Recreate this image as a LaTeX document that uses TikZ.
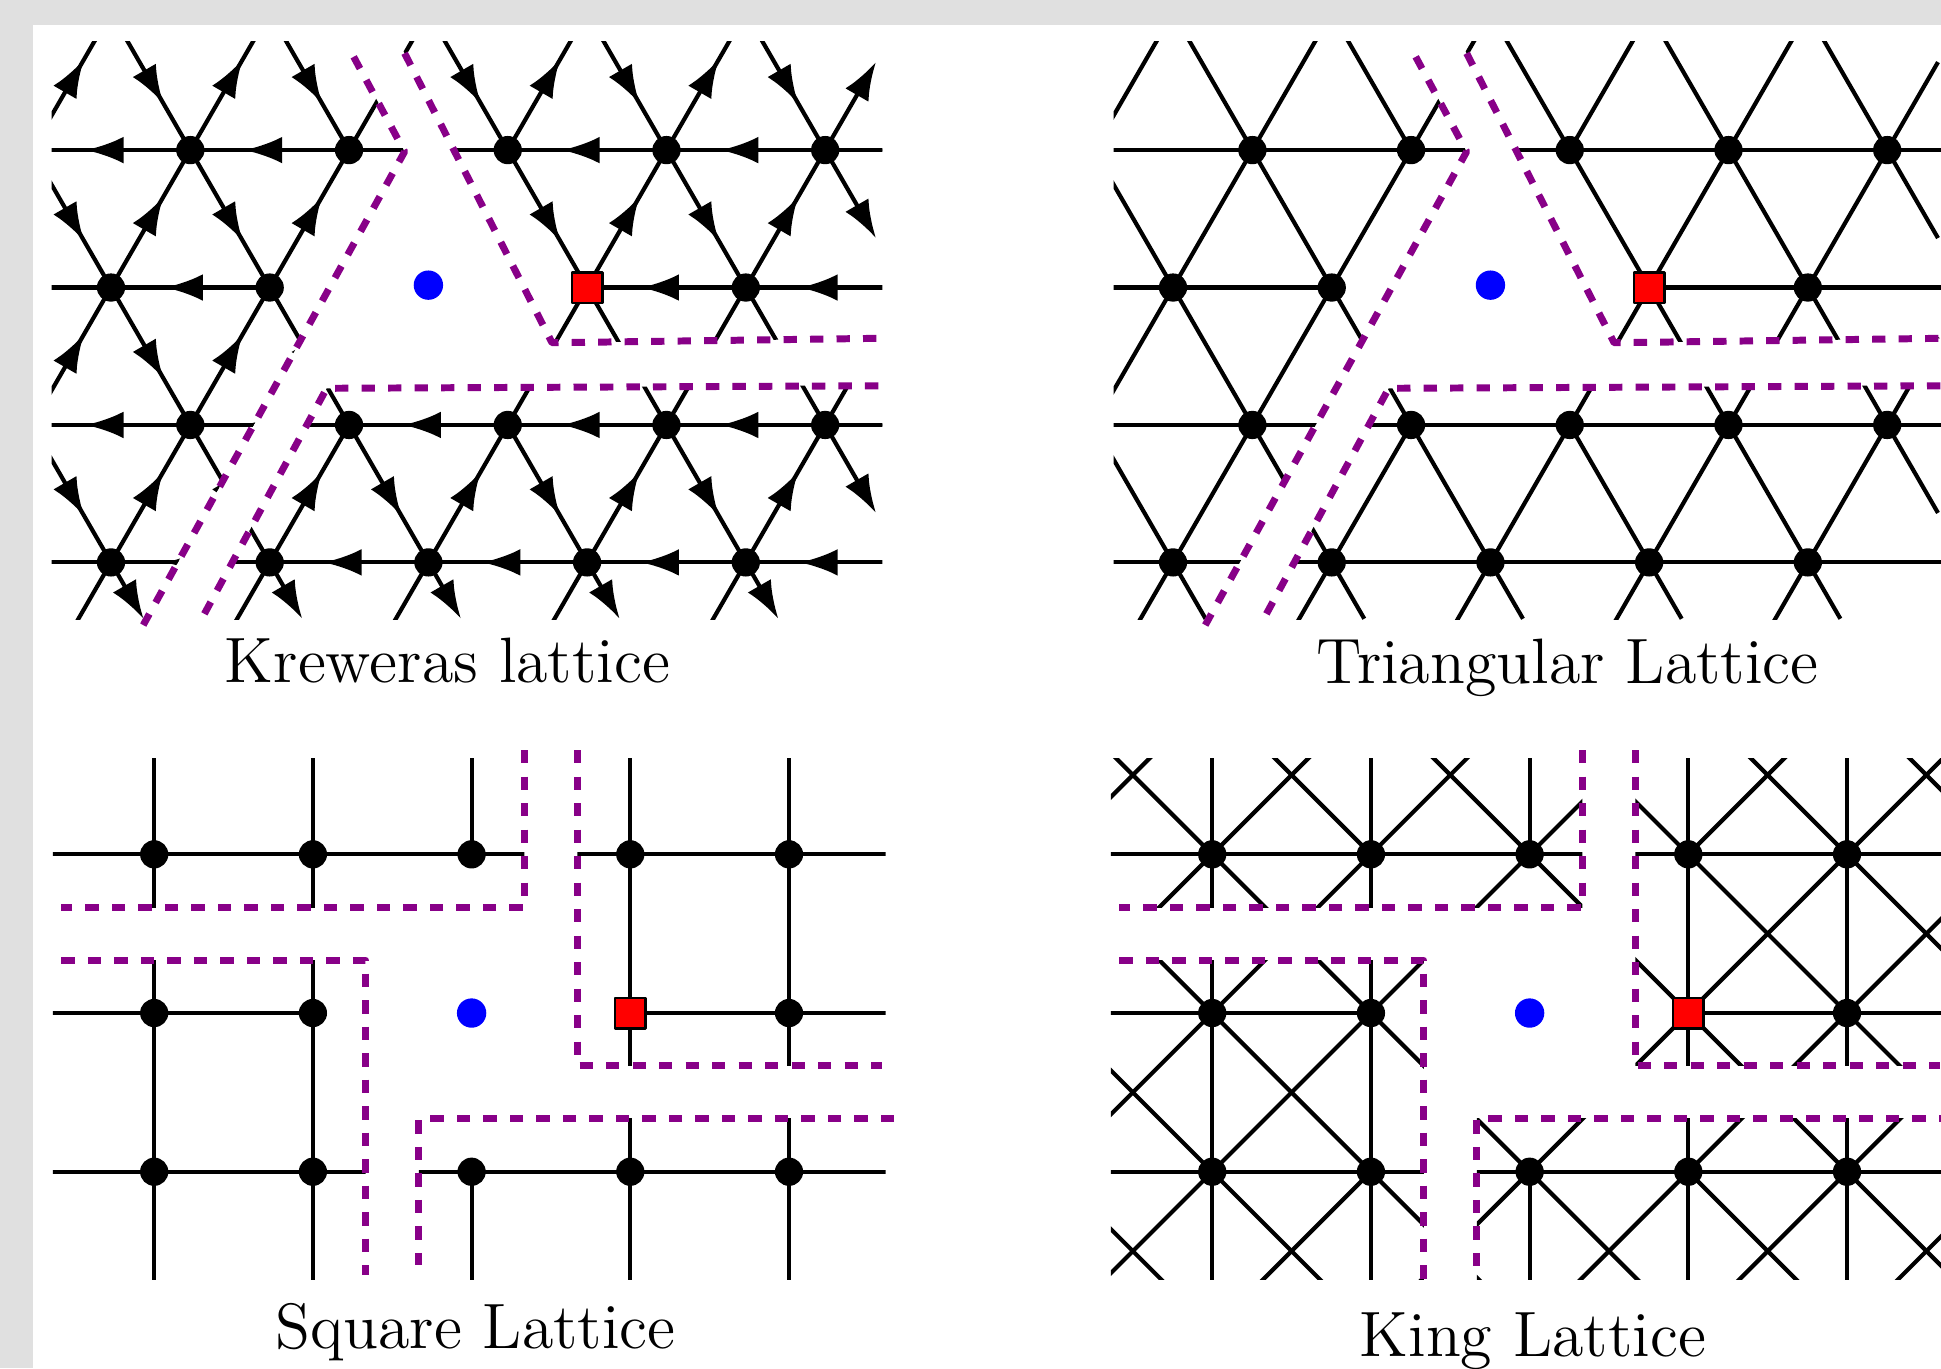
\documentclass[tikz,border=0pt]{standalone}
\usetikzlibrary{arrows.meta,decorations.markings}
\definecolor{pagegray}{RGB}{224,224,224}
\definecolor{cutviolet}{RGB}{136,0,136}
\tikzset{
  latline/.style={line width=0.75pt},
  cutline/.style={draw=cutviolet,line width=1.25pt,dash pattern=on 2.4pt off 2.35pt},
  vtx/.style={circle,fill=black,inner sep=0pt,minimum size=0.178cm},
  origin/.style={circle,fill=blue,inner sep=0pt,minimum size=0.185cm},
  target/.style={draw=black,fill=red,line width=0.45pt,inner sep=0pt,minimum size=0.192cm},
  kedge/.style={postaction={decorate},decoration={markings,mark=at position 0.66 with {\arrow{Latex[length=6.8pt,width=4.8pt]}}}},
  kstub/.style={-{Latex[length=6.8pt,width=4.8pt]}},
  lbl/.style={font=\fontsize{11.5}{14}\selectfont,anchor=base,inner sep=0pt},
}
% triangular lattice points #1-i-j
\newcommand{\tripoints}[1]{%
  \foreach \i in {-5,...,5}{\foreach \j in {-3,...,2}{%
    \coordinate (#1-\i-\j) at ({\i+0.5*\j},{0.8660*\j});}}}
% #1 prefix, #2 style of the edges, #3 style of the stubs
\newcommand{\triedges}[3]{%
  \foreach \i in {-5,...,4}{\foreach \j in {-2,...,2}{%
    \pgfmathtruncatemacro{\ii}{\i+1}%
    \pgfmathtruncatemacro{\skipw}{(\j==0)*((\i==0)+(\i+1==0))}%
    \ifnum\skipw=0 \draw[latline,#2] (#1-\ii-\j) -- (#1-\i-\j);\fi}}
  \foreach \i in {-5,...,5}{\foreach \j in {-2,...,1}{%
    \pgfmathtruncatemacro{\jj}{\j+1}%
    \pgfmathtruncatemacro{\skipn}{(\i==0)*((\j==0)+(\j+1==0))+(2*\i+\j+1>5)}%
    \ifnum\skipn=0 \draw[latline,#2] (#1-\i-\j) -- (#1-\i-\jj);\fi}}
  \foreach \i in {-5,...,4}{\foreach \j in {-1,...,2}{%
    \pgfmathtruncatemacro{\ii}{\i+1}%
    \pgfmathtruncatemacro{\jj}{\j-1}%
    \pgfmathtruncatemacro{\skips}{((\i==0)*(\j==0))+((\i+1==0)*(\j==1))+(2*\i+\j+1>5)}%
    \ifnum\skips=0 \draw[latline,#2] (#1-\i-\j) -- (#1-\ii-\jj);\fi}}
  \foreach \i in {-5,...,3}{%
    \pgfmathtruncatemacro{\skipb}{(2*\i-2>5)}%
    \ifnum\skipb=0 \draw[latline] (#1-\i--3) -- (#1-\i--2);\fi
    \draw[latline,#3] (#1-\i--2) -- ++(-60:0.41);}
  \foreach \i/\j in {2/1,3/-1}{%
    \draw[latline,#3] (#1-\i-\j) -- ++(60:0.64);
    \draw[latline,#3] (#1-\i-\j) -- ++(-60:0.64);}}
\newcommand{\trinodes}[1]{%
  \foreach \i/\j in {-1/-2,0/-2,1/-2,2/-2,3/-2,-1/-1,0/-1,1/-1,2/-1,3/-1,-2/0,-1/0,2/0,-2/1,-1/1,0/1,1/1,2/1}
    \node[vtx] (#1v-\i-\j) at (#1-\i-\j) {};}
% square lattice points #1-i-j
\newcommand{\sqpoints}[1]{%
  \foreach \i in {-3,...,3}{\foreach \j in {-2,...,2}{%
    \coordinate (#1-\i-\j) at (\i,\j);}}}
\newcommand{\sqedges}[1]{%
  \foreach \i in {-3,...,2}{\foreach \j in {-2,...,2}{%
    \pgfmathtruncatemacro{\ii}{\i+1}%
    \pgfmathtruncatemacro{\skiph}{(\j==0)*((\i==0)+(\i+1==0))}%
    \ifnum\skiph=0 \draw[latline] (#1-\i-\j) -- (#1-\ii-\j);\fi}}
  \foreach \i in {-3,...,3}{\foreach \j in {-2,...,1}{%
    \pgfmathtruncatemacro{\jj}{\j+1}%
    \pgfmathtruncatemacro{\skipv}{(\i==0)*((\j==0)+(\j+1==0))}%
    \ifnum\skipv=0 \draw[latline] (#1-\i-\j) -- (#1-\i-\jj);\fi}}}
\newcommand{\kingdiags}[1]{%
  \foreach \i in {-3,...,2}{\foreach \j in {-2,...,1}{%
    \pgfmathtruncatemacro{\ii}{\i+1}%
    \pgfmathtruncatemacro{\jj}{\j+1}%
    \pgfmathtruncatemacro{\skipa}{((\i==0)*(\j==0))+((\i+1==0)*(\j+1==0))}%
    \ifnum\skipa=0 \draw[latline] (#1-\i-\j) -- (#1-\ii-\jj);\fi
    \pgfmathtruncatemacro{\skipb}{((\i==0)*(\jj==0))+((\i+1==0)*(\j==0))}%
    \ifnum\skipb=0 \draw[latline] (#1-\i-\jj) -- (#1-\ii-\j);\fi}}}
\newcommand{\sqnodes}[1]{%
  \foreach \i/\j in {-2/1,-1/1,0/1,1/1,2/1,-2/0,-1/0,2/0,-2/-1,-1/-1,0/-1,1/-1,2/-1}
    \node[vtx] (#1v-\i-\j) at (#1-\i-\j) {};}
\begin{document}
\begin{tikzpicture}[x=1cm,y=1cm,line join=round]
\useasboundingbox (0,0) rectangle (12.2306,-8.62);
\fill[pagegray] (0,0) rectangle (12.2306,-8.62);
\fill[white] (0.206,-0.1575) rectangle (12.2306,-8.62);
% Kreweras lattice
\begin{scope}[shift={(2.6994,-1.8116)}]
  \tripoints{k}
  \begin{scope}
    \clip (-2.374,-2.09) rectangle (2.90,1.549);
    \begin{scope}
      \clip (-3,2) -- (-0.764,2) -- (-0.150,0.856) -- (-2.003,-2.5) -- (-3,-2.5) -- cycle;
      \triedges{k}{kedge}{kstub}
    \end{scope}
    \begin{scope}
      \clip (-0.417,2) -- (0.779,-0.348) -- (2.860,-0.320) -- (2.860,2) -- cycle;
      \triedges{k}{kedge}{kstub}
    \end{scope}
    \begin{scope}
      \clip (2.860,-0.616) -- (-0.641,-0.635) -- (-1.652,-2.5) -- (2.860,-2.5) -- cycle;
      \triedges{k}{kedge}{kstub}
    \end{scope}
  \end{scope}
  \draw[cutline] (-0.471,1.454) -- (-0.150,0.856) -- (-1.797,-2.127);
  \draw[cutline] (-0.150,1.476) -- (0.779,-0.348) -- (2.836,-0.320);
  \draw[cutline] (2.835,-0.619) -- (-0.641,-0.635) -- (-1.450,-2.127);
  \trinodes{k}
  \node[origin] (kblue) at (0,0.015) {};
  \node[target] (kred) at (k-1-0) {};
  \node[lbl] (klabel) at (0.12,-2.49) {Kreweras lattice};
\end{scope}
% triangular lattice
\begin{scope}[shift={(9.3914,-1.8116)}]
  \tripoints{t}
  \begin{scope}
    \clip (-2.374,-2.09) rectangle (2.90,1.549);
    \begin{scope}
      \clip (-3,2) -- (-0.764,2) -- (-0.150,0.856) -- (-2.003,-2.5) -- (-3,-2.5) -- cycle;
      \triedges{t}{}{}
    \end{scope}
    \begin{scope}
      \clip (-0.417,2) -- (0.779,-0.348) -- (2.860,-0.320) -- (2.860,2) -- cycle;
      \triedges{t}{}{}
    \end{scope}
    \begin{scope}
      \clip (2.860,-0.616) -- (-0.641,-0.635) -- (-1.652,-2.5) -- (2.860,-2.5) -- cycle;
      \triedges{t}{}{}
    \end{scope}
  \end{scope}
  \draw[cutline] (-0.471,1.454) -- (-0.150,0.856) -- (-1.797,-2.127);
  \draw[cutline] (-0.150,1.476) -- (0.779,-0.348) -- (2.836,-0.320);
  \draw[cutline] (2.835,-0.619) -- (-0.641,-0.635) -- (-1.450,-2.127);
  \trinodes{t}
  \node[origin] (tblue) at (0,0.015) {};
  \node[target] (tred) at (t-1-0) {};
  \node[lbl] (tlabel) at (0.487,-2.498) {Triangular Lattice};
\end{scope}
% square lattice
\begin{scope}[shift={(2.9716,-6.3831)}]
  \sqpoints{s}
  \begin{scope}
    \clip (-2.638,-1.676) rectangle (2.609,1.605);
    \begin{scope}
      \clip (-3,2) -- (0.333,2) -- (0.333,0.667) -- (-3,0.667) -- cycle;
      \sqedges{s}
    \end{scope}
    \begin{scope}
      \clip (0.667,2) -- (3,2) -- (3,-0.333) -- (0.667,-0.333) -- cycle;
      \sqedges{s}
    \end{scope}
    \begin{scope}
      \clip (-0.333,-0.667) -- (3,-0.667) -- (3,-2) -- (-0.333,-2) -- cycle;
      \sqedges{s}
    \end{scope}
    \begin{scope}
      \clip (-3,0.333) -- (-0.667,0.333) -- (-0.667,-2) -- (-3,-2) -- cycle;
      \sqedges{s}
    \end{scope}
  \end{scope}
  \draw[cutline] (0.333,1.657) -- (0.333,0.667) -- (-2.585,0.667);
  \draw[cutline] (0.667,1.657) -- (0.667,-0.333) -- (2.588,-0.333);
  \draw[cutline] (-2.585,0.333) -- (-0.667,0.333) -- (-0.667,-1.651);
  \draw[cutline] (2.662,-0.667) -- (-0.333,-0.667) -- (-0.333,-1.588);
  \sqnodes{s}
  \node[origin] (sblue) at (0,0) {};
  \node[target] (sred) at (s-1-0) {};
  \node[lbl] (slabel) at (0.024,-2.113) {Square Lattice};
\end{scope}
% king lattice
\begin{scope}[shift={(9.6383,-6.3831)}]
  \sqpoints{g}
  \begin{scope}
    \clip (-2.638,-1.676) rectangle (2.609,1.605);
    \begin{scope}
      \clip (-3,2) -- (0.333,2) -- (0.333,0.667) -- (-3,0.667) -- cycle;
      \sqedges{g}\kingdiags{g}
    \end{scope}
    \begin{scope}
      \clip (0.667,2) -- (3,2) -- (3,-0.333) -- (0.667,-0.333) -- cycle;
      \sqedges{g}\kingdiags{g}
    \end{scope}
    \begin{scope}
      \clip (-0.333,-0.667) -- (3,-0.667) -- (3,-2) -- (-0.333,-2) -- cycle;
      \sqedges{g}\kingdiags{g}
    \end{scope}
    \begin{scope}
      \clip (-3,0.333) -- (-0.667,0.333) -- (-0.667,-2) -- (-3,-2) -- cycle;
      \sqedges{g}\kingdiags{g}
    \end{scope}
  \end{scope}
  \draw[cutline] (0.333,1.657) -- (0.333,0.667) -- (-2.585,0.667);
  \draw[cutline] (0.667,1.657) -- (0.667,-0.333) -- (2.588,-0.333);
  \draw[cutline] (-2.585,0.333) -- (-0.667,0.333) -- (-0.667,-1.68);
  \draw[cutline] (2.662,-0.667) -- (-0.333,-0.667) -- (-0.333,-1.66);
  \sqnodes{g}
  \node[origin] (gblue) at (0,0) {};
  \node[target] (gred) at (g-1-0) {};
  \node[lbl] (glabel) at (0.021,-2.161) {King Lattice};
\end{scope}
\end{tikzpicture}
\end{document}
